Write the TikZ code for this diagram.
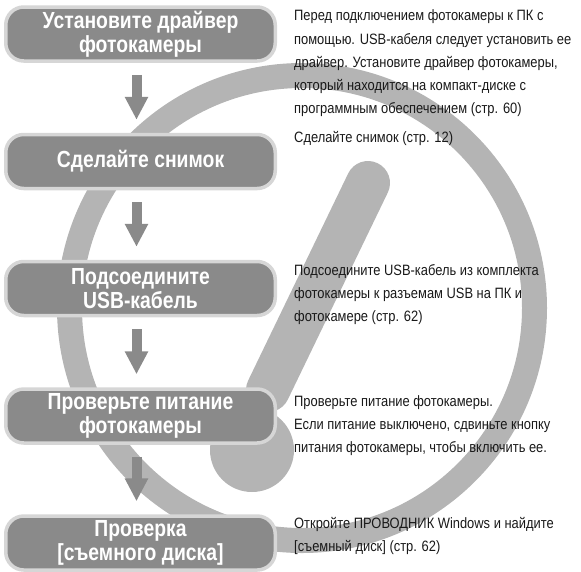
\documentclass[tikz,border=0pt]{standalone}
\usepackage{fontspec}
\setmainfont{Liberation Sans}[FakeStretch=0.86]
\newfontfamily\stepfont{Liberation Sans}[FakeStretch=0.83]
\usetikzlibrary{positioning,arrows.meta}
\definecolor{ringgray}{RGB}{180,180,180}
\definecolor{boxgray}{RGB}{138,138,138}
\definecolor{rimgray}{RGB}{214,214,214}
\definecolor{txtgray}{RGB}{25,25,25}
\tikzset{
  stepbox/.style={draw=rimgray,line width=3.5pt,fill=boxgray,rounded corners=18pt,
    minimum width=269.5pt,minimum height=54pt,text=white,align=center,
    font=\stepfont\bfseries\fontsize{23.3}{24}\selectfont},
  note/.style={anchor=north west,inner sep=0pt,align=left,text=txtgray,
    font=\fontsize{15}{23.3}\selectfont},
  flow/.style={draw=boxgray,line width=10pt,-{Triangle[width=22pt,length=23pt]},
    shorten <=12pt,shorten >=13pt}
}
\begin{document}
\begin{tikzpicture}[x=1pt,y=-1pt]
\useasboundingbox (0,0) rectangle (581,571);
% ring and exclamation mark behind
\draw[ringgray,line width=25pt] (302,308) circle (232.5pt);
\draw[ringgray,line width=44pt,line cap=round] (368,183) -- (268,390);
\fill[ringgray] (252,450) circle (42pt);
% steps
\node[stepbox] (drv) at (140.5,34) {Установите драйвер\\фотокамеры};
\node[stepbox] (shot) at (140.5,161.5) {Сделайте снимок};
\node[stepbox] (usb) at (140.5,288.5) {Подсоедините\\USB-кабель};
\node[stepbox] (pwr) at (140.5,416) {Проверьте питание\\фотокамеры};
\node[stepbox] (disk) at (140.5,543) {Проверка\\{[съемного диска]}};
\foreach \a/\b in {drv/shot,shot/usb,usb/pwr,pwr/disk}
  \draw[flow] ([xshift=-4pt]\a.south) -- ([xshift=-4pt]\b.north);
% notes
\node[note] (drvtxt) at (294,9.7) {Перед подключением фотокамеры к ПК с\\
  помощью. USB-кабеля следует установить ее\\
  драйвер. Установите драйвер фотокамеры,\\
  который находится на компакт-диске с\\
  программным обеспечением (стр. 60)};
\node[note] (shottxt) at (294,131) {Сделайте снимок (стр. 12)};
\node[note] (usbtxt) at (294,264) {Подсоедините USB-кабель из комплекта\\
  фотокамеры к разъемам USB на ПК и\\
  фотокамере (стр. 62)};
\node[note] (pwrtxt) at (294,395) {Проверьте питание фотокамеры.\\
  Если питание выключено, сдвиньте кнопку\\
  питания фотокамеры, чтобы включить ее.};
\node[note] (disktxt) at (294,517) {Откройте ПРОВОДНИК Windows и найдите\\
  {[съемный диск]} (стр. 62)};
\end{tikzpicture}
\end{document}
